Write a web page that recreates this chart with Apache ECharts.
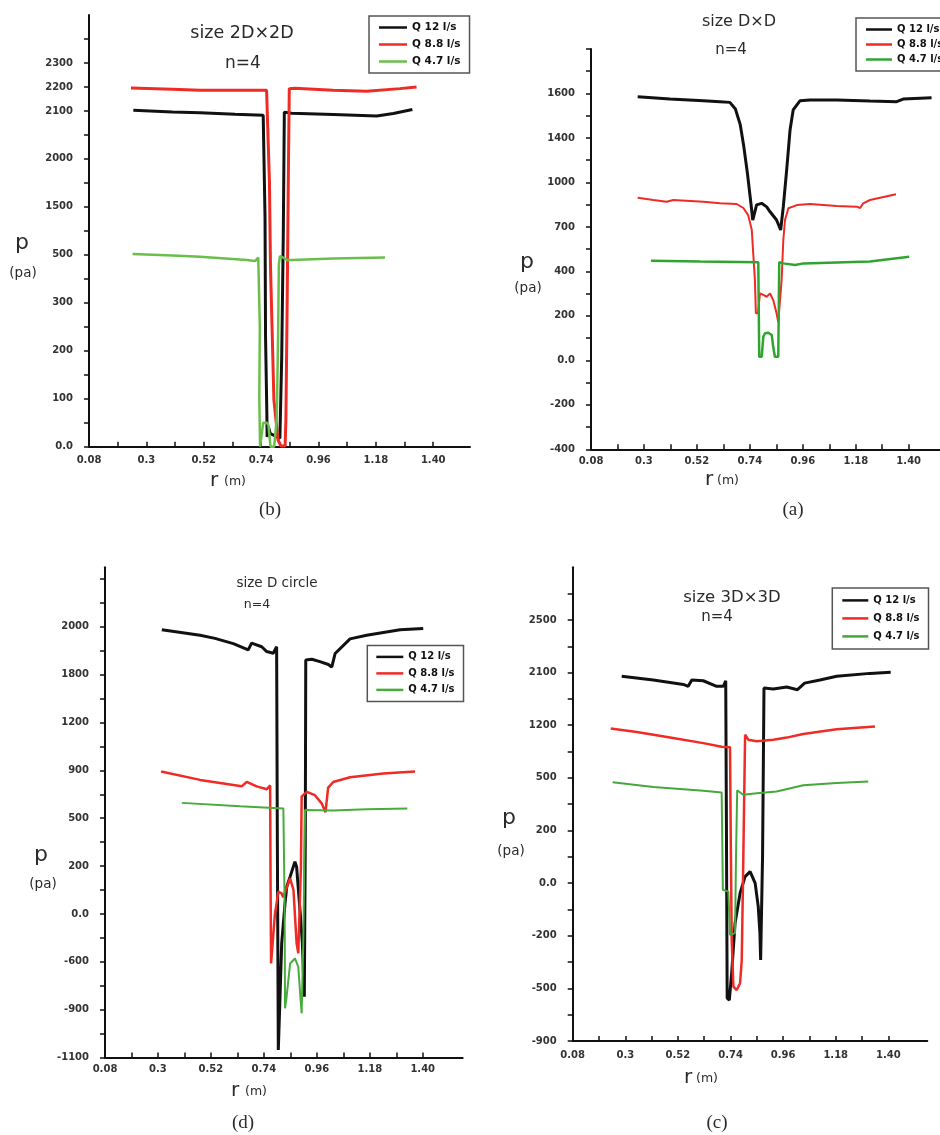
<!DOCTYPE html>
<html>
<head>
<meta charset="UTF-8">
<title>pressure along r</title>
<script src="https://cdn.jsdelivr.net/npm/echarts@6/dist/echarts.min.js"></script>
<style>
  html, body { margin: 0; padding: 0; background: #fff; }
  #main { width: 940px; height: 1135px; }
</style>
</head>
<body>
<div id="main"></div>
<script>
// x = r (m). y = place on the p axis counted in tick steps,
// because the printed pa scale of each panel is not linear.
const xTicks = [0.19, 0.30, 0.41, 0.52, 0.63, 0.74, 0.85, 0.96, 1.07, 1.18, 1.29, 1.40];
const xLabelVals = [0.08, 0.30, 0.52, 0.74, 0.96, 1.18, 1.40];
const xLabelText = ['0.08', '0.3', '0.52', '0.74', '0.96', '1.18', '1.40'];
const names = ['Q 12 l/s', 'Q 8.8 l/s', 'Q 4.7 l/s'];

// (b) size 2D x 2D
const bLabelPos = [0, 2, 4, 6, 8, 10, 12, 14, 15, 16];
const bLabelText = ['0.0', '100', '200', '300', '500', '1500', '2000', '2100', '2200', '2300'];
const bQ12 = [[0.250,14.03],[0.400,13.96],[0.506,13.92],[0.640,13.86],[0.748,13.82],[0.753,13.78],[0.755,9.58],[0.757,4.58],[0.762,1.39],[0.763,0.40],[0.768,0.83],[0.775,0.55],[0.793,0.45],[0.812,0.35],[0.817,0.40],[0.819,3.75],[0.825,8.82],[0.829,13.95],[0.835,14.03],[0.857,13.90],[1.017,13.85],[1.183,13.79],[1.247,13.89],[1.320,14.06]];
const bQ88 = [[0.241,14.96],[0.400,14.90],[0.506,14.86],[0.640,14.86],[0.761,14.86],[0.767,14.78],[0.772,11.0],[0.776,7.5],[0.789,1.95],[0.805,0.28],[0.816,0.03],[0.832,0.03],[0.835,1.1],[0.840,6.1],[0.845,11.9],[0.848,14.93],[0.870,14.95],[1.016,14.86],[1.145,14.82],[1.272,14.93],[1.336,15.0]];
const bQ47 = [[0.247,8.03],[0.400,7.97],[0.506,7.92],[0.685,7.78],[0.717,7.74],[0.729,7.89],[0.734,7.82],[0.735,5.0],[0.733,2.0],[0.736,0.0],[0.742,0.0],[0.748,1.0],[0.755,1.05],[0.762,1.0],[0.768,0.9],[0.776,0.0],[0.790,0.0],[0.800,1.2],[0.805,4.5],[0.808,7.6],[0.812,7.95],[0.822,7.9],[0.840,7.78],[0.857,7.78],[1.017,7.85],[1.215,7.89]];

// (a) size D x D
const aLabelPos = [0, 2, 4, 6, 8, 10, 12, 14, 16];
const aLabelText = ['-400', '-200', '0.0', '200', '400', '700', '1000', '1400', '1600'];
const aQ12 = [[0.274,15.85],[0.408,15.75],[0.547,15.67],[0.616,15.63],[0.657,15.6],[0.680,15.3],[0.700,14.6],[0.715,13.6],[0.730,12.4],[0.745,11.0],[0.752,10.31],[0.768,10.99],[0.789,11.06],[0.810,10.90],[0.824,10.68],[0.851,10.31],[0.868,9.86],[0.879,10.91],[0.893,12.56],[0.907,14.36],[0.920,15.26],[0.948,15.67],[0.990,15.71],[1.101,15.71],[1.239,15.66],[1.350,15.63],[1.377,15.75],[1.495,15.81]];
const aQ88 = [[0.274,11.31],[0.339,11.21],[0.394,11.13],[0.422,11.21],[0.547,11.13],[0.616,11.06],[0.685,11.03],[0.713,10.85],[0.733,10.53],[0.748,9.86],[0.754,8.81],[0.761,7.61],[0.765,6.12],[0.774,6.13],[0.782,7.01],[0.796,6.94],[0.810,6.86],[0.824,7.01],[0.837,6.71],[0.851,6.12],[0.858,5.72],[0.872,7.61],[0.879,9.41],[0.886,10.31],[0.900,10.84],[0.935,10.98],[0.990,11.03],[1.101,10.94],[1.184,10.91],[1.198,10.85],[1.211,11.06],[1.239,11.21],[1.347,11.47]];
const aQ47 = [[0.329,8.48],[0.533,8.44],[0.775,8.41],[0.779,4.16],[0.789,4.16],[0.796,5.06],[0.803,5.22],[0.817,5.24],[0.831,5.14],[0.837,4.61],[0.844,4.16],[0.858,4.16],[0.862,8.41],[0.879,8.36],[0.928,8.29],[0.962,8.36],[1.239,8.44],[1.402,8.66]];

// (d) size D circle
const dLabelPos = [0, 2, 4, 6, 8, 10, 12, 14, 16, 18];
const dLabelText = ['-1100', '-900', '-600', '0.0', '200', '500', '900', '1200', '1800', '2000'];
const dQ12 = [[0.316,17.87],[0.475,17.64],[0.537,17.51],[0.613,17.29],[0.675,17.03],[0.689,17.31],[0.731,17.16],[0.752,16.96],[0.779,16.89],[0.793,17.16],[0.796,9.0],[0.800,0.32],[0.806,2.2],[0.814,4.77],[0.828,6.45],[0.835,7.14],[0.849,7.56],[0.869,8.18],[0.876,7.97],[0.890,6.17],[0.900,4.77],[0.908,2.54],[0.912,9.0],[0.914,16.61],[0.939,16.64],[0.973,16.54],[1.008,16.42],[1.022,16.31],[1.036,16.88],[1.098,17.49],[1.167,17.64],[1.306,17.87],[1.402,17.92]];
const dQ88 = [[0.313,11.95],[0.475,11.60],[0.648,11.33],[0.669,11.52],[0.710,11.33],[0.752,11.21],[0.766,11.37],[0.768,7.0],[0.770,3.93],[0.778,3.93],[0.786,6.0],[0.793,6.45],[0.800,6.93],[0.814,6.86],[0.820,6.7],[0.849,7.49],[0.863,7.0],[0.876,4.77],[0.883,4.36],[0.890,4.4],[0.894,8.0],[0.897,10.9],[0.918,11.10],[0.952,10.96],[0.980,10.62],[0.996,10.25],[1.007,11.28],[1.028,11.51],[1.098,11.71],[1.236,11.87],[1.368,11.95]];
const dQ47 = [[0.399,10.64],[0.641,10.50],[0.821,10.41],[0.826,6.58],[0.828,2.06],[0.834,2.5],[0.849,3.93],[0.869,4.14],[0.883,3.79],[0.892,2.5],[0.897,1.85],[0.904,5.0],[0.911,10.34],[1.028,10.32],[1.167,10.37],[1.336,10.40]];

// (c) size 3D x 3D
const cLabelPos = [0, 2, 4, 6, 8, 10, 12, 14, 16];
const cLabelText = ['-900', '-500', '-200', '0.0', '200', '500', '1200', '2100', '2500'];
const cQ12 = [[0.285,13.86],[0.417,13.72],[0.543,13.55],[0.563,13.48],[0.578,13.72],[0.626,13.69],[0.682,13.48],[0.710,13.48],[0.720,13.69],[0.723,8.0],[0.726,1.63],[0.735,1.56],[0.745,2.6],[0.759,4.48],[0.780,5.62],[0.801,6.25],[0.822,6.44],[0.843,6.0],[0.856,5.11],[0.863,4.10],[0.866,3.08],[0.874,7.0],[0.880,13.41],[0.919,13.38],[0.975,13.45],[1.020,13.35],[1.050,13.6],[1.114,13.72],[1.184,13.86],[1.323,13.97],[1.410,14.01]];
const cQ88 = [[0.239,11.88],[0.348,11.74],[0.487,11.53],[0.626,11.32],[0.703,11.18],[0.738,11.16],[0.741,7.65],[0.745,3.85],[0.752,2.07],[0.766,1.94],[0.780,2.20],[0.787,3.08],[0.792,6.0],[0.801,11.64],[0.814,11.45],[0.850,11.39],[0.919,11.45],[0.975,11.53],[1.044,11.67],[1.184,11.85],[1.344,11.95]];
const cQ47 = [[0.247,9.83],[0.417,9.65],[0.571,9.55],[0.626,9.51],[0.703,9.44],[0.708,5.75],[0.731,5.68],[0.738,4.03],[0.759,4.10],[0.763,7.0],[0.768,9.53],[0.793,9.36],[0.850,9.42],[0.933,9.48],[1.044,9.72],[1.184,9.81],[1.316,9.86]];

const FONT = 'DejaVu Sans';
const INK = '#2a2a2a';
const RED = '#ee2b24';
const BLACK = '#111';

function steps(n) {
  const out = [];
  for (let i = 0; i <= n; i++) out.push(i);
  return out;
}

function xAxisFor(gi, max, margin) {
  return {
    type: 'value', gridIndex: gi, min: 0.08, max: max,
    axisLine: { show: true, onZero: false, lineStyle: { color: BLACK, width: 2 } },
    axisTick: { show: true, inside: true, length: 5, customValues: xTicks, lineStyle: { color: BLACK, width: 1.5 } },
    axisLabel: {
      customValues: xLabelVals, margin: margin,
      fontFamily: FONT, fontWeight: 'bold', fontSize: 10, color: '#333',
      formatter: function (v) {
        for (let i = 0; i < xLabelVals.length; i++) {
          if (Math.abs(xLabelVals[i] - v) < 1e-6) return xLabelText[i];
        }
        return '';
      }
    },
    splitLine: { show: false }
  };
}

function yAxisFor(gi, max, nTicks, pos, text) {
  return {
    type: 'value', gridIndex: gi, min: 0, max: max,
    axisLine: { show: true, onZero: false, lineStyle: { color: BLACK, width: 2 } },
    axisTick: { show: true, length: 5, customValues: steps(nTicks), lineStyle: { color: BLACK, width: 1.5 } },
    axisLabel: {
      customValues: pos, margin: 16,
      fontFamily: FONT, fontWeight: 'bold', fontSize: 10, color: '#333',
      formatter: function (v) {
        const i = pos.indexOf(Math.round(v));
        return i < 0 ? '' : text[i];
      }
    },
    splitLine: { show: false }
  };
}

function line(name, data, color, width, gi) {
  return {
    type: 'line', name: name, data: data, xAxisIndex: gi, yAxisIndex: gi,
    color: color, symbol: 'none', showSymbol: false, animation: false,
    lineStyle: { color: color, width: width }
  };
}

function legendFor(left, top, pad, gap, fs, iw, green) {
  const cols = [BLACK, RED, green];
  return {
    orient: 'vertical', left: left, top: top, padding: pad, itemGap: gap,
    itemWidth: iw, itemHeight: 2.5, icon: 'rect', selectedMode: false,
    borderColor: '#555', borderWidth: 1.5, backgroundColor: '#fff',
    textStyle: { fontFamily: FONT, fontWeight: 'bold', fontSize: fs, color: '#111', lineHeight: 13 },
    data: names.map(function (n, i) { return { name: n, itemStyle: { color: cols[i] } }; })
  };
}

function txt(x, y, text, size, family, weight) {
  return {
    type: 'text', x: x, y: y, silent: true, z: 10,
    style: {
      text: text, fill: INK,
      font: (weight || 'normal') + ' ' + size + 'px "' + (family || FONT) + '"',
      align: 'center', verticalAlign: 'middle',
      textAlign: 'center', textVerticalAlign: 'middle'
    }
  };
}

const greenB = '#6abf4b', greenA = '#2fa52f', greenD = '#48ab3c', greenC = '#45a83a';

const option = {
  backgroundColor: '#fff',
  animation: false,
  grid: [
    { left: 89, top: 15, width: 381, height: 431.7, outerBoundsMode: 'none', containLabel: false },
    { left: 591, top: 49, width: 349, height: 400.3, outerBoundsMode: 'none', containLabel: false },
    { left: 105, top: 567.3, width: 357.7, height: 490.3, outerBoundsMode: 'none', containLabel: false },
    { left: 572.7, top: 567.3, width: 354.6, height: 473.8, outerBoundsMode: 'none', containLabel: false }
  ],
  xAxis: [
    xAxisFor(0, 1.541, 9),
    xAxisFor(1, 1.530, 7),
    xAxisFor(2, 1.566, 7),
    xAxisFor(3, 1.563, 9)
  ],
  yAxis: [
    yAxisFor(0, 18, 17, bLabelPos, bLabelText),
    yAxisFor(1, 18, 18, aLabelPos, aLabelText),
    yAxisFor(2, 20.48, 20, dLabelPos, dLabelText),
    yAxisFor(3, 18, 17, cLabelPos, cLabelText)
  ],
  legend: [
    legendFor(369, 16, [5, 9, 5, 10], 4, 10.5, 28, greenB),
    legendFor(856, 18, [5, 9, 5, 10], 2, 10, 26, greenA),
    legendFor(367.3, 645.4, [5, 9, 5, 9], 3.5, 10, 27, greenD),
    legendFor(832.3, 587.9, [6, 9, 6, 10], 5, 10, 26, greenC)
  ],
  series: [
    line(names[0], bQ12, BLACK, 3, 0),
    line(names[1], bQ88, RED, 3, 0),
    line(names[2], bQ47, greenB, 2.5, 0),
    line(names[0], aQ12, BLACK, 3, 1),
    line(names[1], aQ88, RED, 2, 1),
    line(names[2], aQ47, greenA, 2.5, 1),
    line(names[0], dQ12, BLACK, 3, 2),
    line(names[1], dQ88, RED, 2.5, 2),
    line(names[2], dQ47, greenD, 2, 2),
    line(names[0], cQ12, BLACK, 3, 3),
    line(names[1], cQ88, RED, 2.5, 3),
    line(names[2], cQ47, greenC, 2, 3)
  ],
  graphic: [
    // (b)
    txt(242, 33, 'size 2D×2D', 17.5),
    txt(243, 64, 'n=4', 17),
    txt(22, 243, 'p', 22),
    txt(23, 273, '(pa)', 13.5),
    txt(214, 481, 'r', 20),
    txt(235, 482, '(m)', 12.5),
    txt(270, 510, '(b)', 19, 'Liberation Serif'),
    // (a)
    txt(739, 22, 'size D×D', 16),
    txt(731, 50, 'n=4', 15),
    txt(527, 262, 'p', 22),
    txt(528, 288, '(pa)', 13.5),
    txt(709, 480, 'r', 20),
    txt(728, 481, '(m)', 12.5),
    txt(793, 510, '(a)', 19, 'Liberation Serif'),
    // (d)
    txt(277, 583, 'size D circle', 13.5),
    txt(257, 605, 'n=4', 12.5),
    txt(41, 855, 'p', 22),
    txt(43, 884, '(pa)', 13.5),
    txt(235, 1091, 'r', 20),
    txt(256, 1092, '(m)', 12.5),
    txt(243, 1123, '(d)', 19, 'Liberation Serif'),
    // (c)
    txt(732, 598, 'size 3D×3D', 16.5),
    txt(717, 617, 'n=4', 15),
    txt(509, 818, 'p', 22),
    txt(511, 851, '(pa)', 13.5),
    txt(688, 1078, 'r', 20),
    txt(707, 1079, '(m)', 12.5),
    txt(717, 1123, '(c)', 19, 'Liberation Serif')
  ]
};

const chart = echarts.init(document.getElementById('main'), null, { renderer: 'canvas' });
chart.setOption(option);
</script>
</body>
</html>
